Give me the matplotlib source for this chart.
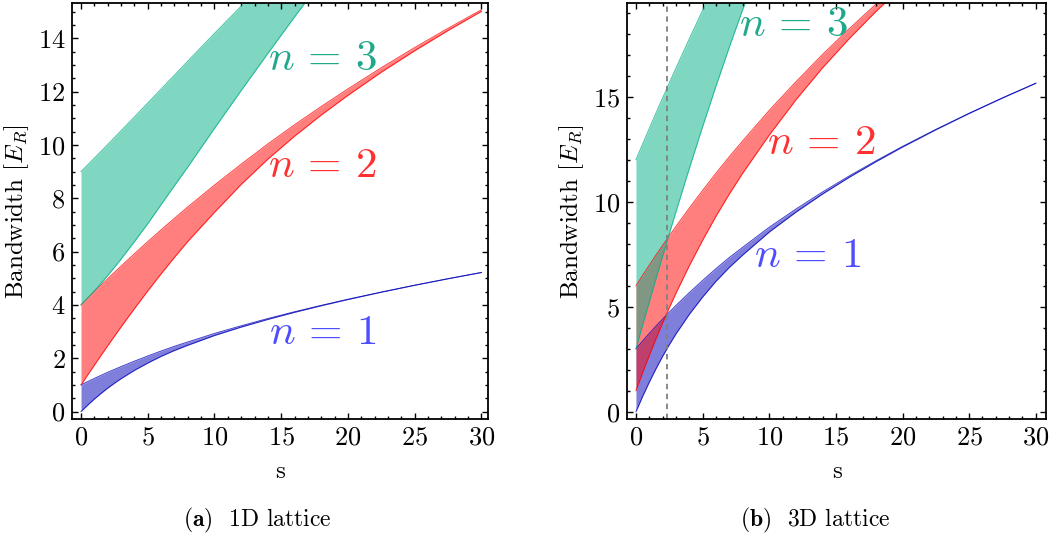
import numpy as np
import matplotlib
matplotlib.use('Agg')
import matplotlib.pyplot as plt

plt.rcParams['mathtext.fontset'] = 'cm'
plt.rcParams['font.family'] = ['cmr10', 'DejaVu Serif']
plt.rcParams['axes.formatter.use_mathtext'] = True

# lattice depth s (in E_R)
s = [0, 0.5, 1, 1.5, 2, 2.5, 3, 4, 5, 6, 7, 8, 10, 12, 14, 16, 18, 20, 22.5, 25, 27.5, 30]
s3 = [0, 0.5, 1, 1.5, 2, 2.5, 3, 4, 5, 6, 7, 8, 10, 12, 14, 16, 18, 20]

# 1D lattice band edges [E_R]
band1_lo = [0, 0.242, 0.469, 0.681, 0.879, 1.062, 1.234, 1.545, 1.82, 2.07, 2.29, 2.486,
            2.852, 3.168, 3.456, 3.721, 3.968, 4.201, 4.475, 4.734, 4.979, 5.213]
band1_hi = [1, 1.123, 1.242, 1.358, 1.471, 1.58, 1.686, 1.89, 2.083, 2.27, 2.447, 2.609,
            2.928, 3.216, 3.488, 3.742, 3.982, 4.211, 4.481, 4.738, 4.982, 5.215]
band2_lo = [1, 1.373, 1.742, 2.107, 2.467, 2.822, 3.173, 3.859, 4.524, 5.165, 5.783, 6.379,
            7.47, 8.517, 9.465, 10.327, 11.12, 11.858, 12.726, 13.53, 14.289, 15.008]
band2_hi = [4, 4.249, 4.495, 4.738, 4.979, 5.218, 5.453, 5.917, 6.371, 6.814, 7.248, 7.672,
            8.492, 9.277, 10.035, 10.754, 11.44, 12.099, 12.893, 13.65, 14.371, 15.065]
band3_lo = [4, 4.257, 4.526, 4.808, 5.101, 5.405, 5.719, 6.371, 7.045, 7.76, 8.47, 9.172,
            10.62, 12.04, 13.43, 14.8, 16.14, 17.45]
band3_hi = [9, 9.251, 9.504, 9.758, 10.014, 10.271, 10.529, 11.048, 11.569, 12.091, 12.614, 13.14,
            14.18, 15.2, 16.24, 17.25, 18.2, 19.24]

# 3D lattice band edges [E_R]
b3d1_lo = [0, 0.727, 1.407, 2.042, 2.636, 3.187, 3.703, 4.635, 5.46, 6.21, 6.87, 7.458,
           8.556, 9.504, 10.368, 11.163, 11.904, 12.603, 13.425, 14.202, 14.937, 15.639]
b3d1_hi = [3, 3.369, 3.727, 4.075, 4.412, 4.74, 5.058, 5.669, 6.248, 6.81, 7.341, 7.827,
           8.784, 9.648, 10.464, 11.226, 11.946, 12.633, 13.443, 14.214, 14.946, 15.645]
b3d2_lo = [1, 1.857, 2.68, 3.468, 4.224, 4.947, 5.641, 6.949, 8.164, 9.305, 10.363, 11.351,
           13.174, 14.853, 16.377, 17.769, 19.056, 20.26, 21.676, 22.998, 24.247, 25.434]
b3d2_hi = [6, 6.495, 6.98, 7.455, 7.921, 8.377, 8.825, 9.697, 10.536, 11.354, 12.142, 12.89,
           14.348, 15.709, 17.011, 18.238, 19.404, 20.521, 21.85, 23.13, 24.34, 25.5]
s3d3 = [0, 0.5, 1, 1.5, 2, 2.5, 3, 4, 5, 6, 7, 8, 10]
b3d3_lo = [3, 4.119, 5.226, 6.32, 7.4, 8.467, 9.519, 11.577, 13.571, 15.495, 17.349, 19.138, 22.41]
b3d3_hi = [12, 12.746, 13.484, 14.215, 14.938, 15.653, 16.36, 17.751, 19.112, 20.443, 21.74, 23.02, 25.48]

s_crit = 2.3

blue = (0.0, 0.0, 0.72)
red = (1.0, 0.0, 0.0)
green = (0.0, 0.69, 0.53)
blue_txt = '#4d4dff'
red_txt = '#ff3030'
green_txt = '#1fa88a'


def band(ax, x, lo, hi, c):
    ax.fill_between(x, lo, hi, color=c, alpha=0.5, lw=0)
    ax.plot(x, lo, color=c, lw=0.7, alpha=0.75)
    ax.plot(x, hi, color=c, lw=0.7, alpha=0.75)


def style(ax, ymajor, yminor):
    ax.set_xticks(np.arange(0, 31, 5))
    ax.set_xticks(np.arange(0, 31, 1), minor=True)
    ax.set_yticks(ymajor)
    ax.set_yticks(yminor, minor=True)
    ax.tick_params(which='both', direction='in', top=True, right=True, labelsize=19, width=1)
    ax.tick_params(which='major', length=4, pad=5)
    ax.tick_params(which='minor', length=2.2)
    for sp in ax.spines.values():
        sp.set_linewidth(1.3)
    ax.set_xlabel('s', fontsize=18, labelpad=8)
    ax.set_ylabel(r'Bandwidth $[E_R]$', fontsize=18, labelpad=5)


fig = plt.figure(figsize=(10.53, 5.37), dpi=100)

ax1 = fig.add_axes([0.0687, 0.2192, 0.3948, 0.7747])
band(ax1, s, band1_lo, band1_hi, blue)
band(ax1, s, band2_lo, band2_hi, red)
band(ax1, s3, band3_lo, band3_hi, green)
ax1.set_xlim(-0.65, 30.5)
ax1.set_ylim(-0.29, 15.31)
style(ax1, np.arange(0, 15, 2), np.arange(0, 15.3, 0.5))
ax1.text(18.1, 13.2, r'$n\,=\,3$', color=green_txt, fontsize=31, ha='center', va='center')
ax1.text(18.1, 9.2, r'$n\,=\,2$', color=red_txt, fontsize=31, ha='center', va='center')
ax1.text(18.1, 2.95, r'$n\,=\,1$', color=blue_txt, fontsize=31, ha='center', va='center')

ax2 = fig.add_axes([0.5957, 0.2192, 0.3976, 0.7747])
band(ax2, s, b3d1_lo, b3d1_hi, blue)
band(ax2, s, b3d2_lo, b3d2_hi, red)
band(ax2, s3d3, b3d3_lo, b3d3_hi, green)
ax2.axvline(s_crit, color='gray', ls=(0, (3, 2.5)), lw=1.3)
ax2.set_xlim(-0.65, 30.76)
ax2.set_ylim(-0.36, 19.45)
style(ax2, [0, 5, 10, 15], np.arange(0, 20, 1))
ax2.text(11.8, 18.4, r'$n\,=\,3$', color=green_txt, fontsize=31, ha='center', va='center')
ax2.text(13.9, 12.8, r'$n\,=\,2$', color=red_txt, fontsize=31, ha='center', va='center')
ax2.text(12.9, 7.4, r'$n\,=\,1$', color=blue_txt, fontsize=31, ha='center', va='center')

fig.text(257 / 1053, 1 - 520 / 537, r'$\mathbf{(a)}$  1D lattice', fontsize=17, ha='center', va='center')
fig.text(815 / 1053, 1 - 520 / 537, r'$\mathbf{(b)}$  3D lattice', fontsize=17, ha='center', va='center')

fig.savefig('out.png', dpi=100)
